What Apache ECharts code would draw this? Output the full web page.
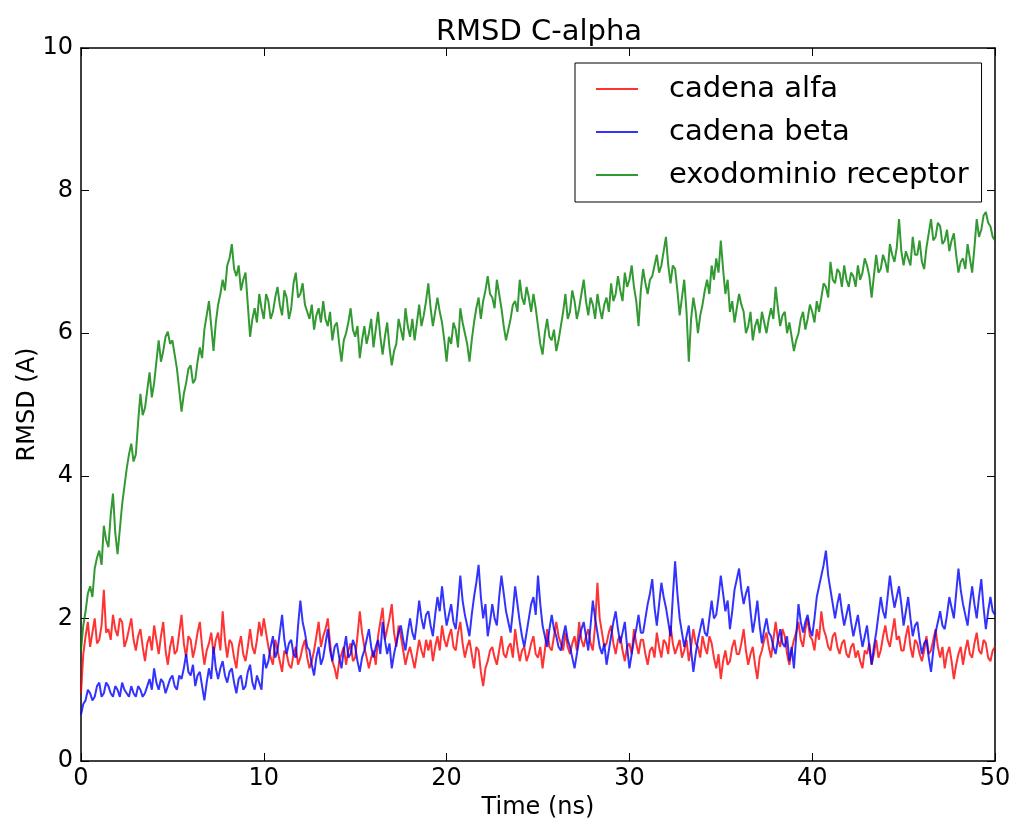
<!DOCTYPE html>
<html>
<head>
<meta charset="utf-8">
<title>RMSD C-alpha</title>
<script src="https://cdn.jsdelivr.net/npm/echarts@6/dist/echarts.min.js"></script>
<style>
  html, body { margin: 0; padding: 0; background: #fff; }
  #chart { width: 1012px; height: 821px; }
</style>
</head>
<body>
<div id="chart"></div>
<script>
// sampling step of the trajectory (ns)
const STEP_NS = 0.125;

const seriesNames = ['cadena alfa', 'cadena beta', 'exodominio receptor'];
const xTicks = [0, 10, 20, 30, 40, 50];
const yTicks = [0, 2, 4, 6, 8, 10];

// RMSD (A), one value every 0.125 ns, 0 -> 50 ns (one row = 5 ns)
const alfa = [
  0.95,1.5,1.75,1.95,1.6,1.8,2.0,1.65,1.7,1.9,2.4,1.8,1.85,1.7,2.05,1.85,1.75,2.0,1.95,1.6,1.7,1.85,2.0,1.7,1.55,1.75,1.85,1.6,1.4,1.65,1.75,1.55,1.9,1.7,1.5,1.75,1.95,1.55,1.35,1.6,
  1.75,1.5,1.55,1.8,2.05,1.65,1.45,1.75,1.7,1.45,1.6,1.8,1.95,1.6,1.35,1.55,1.65,1.8,1.5,1.7,1.8,1.55,2.1,1.7,1.45,1.7,1.65,1.45,1.3,1.6,1.75,1.5,1.4,1.6,1.85,1.6,1.5,1.7,1.95,1.75,
  2.0,1.8,1.6,1.45,1.35,1.7,1.55,1.4,1.25,1.55,1.5,1.35,1.3,1.5,1.6,1.35,1.45,1.6,1.7,1.45,1.3,1.4,1.55,1.75,1.95,1.6,1.75,1.85,2.0,1.65,1.4,1.3,1.15,1.4,1.5,1.6,1.35,1.55,1.65,1.4,
  1.45,1.75,2.1,1.8,1.6,1.45,1.3,1.45,1.55,1.35,1.75,1.95,2.15,1.7,1.85,2.0,2.2,1.8,1.6,1.9,1.75,1.55,1.35,1.5,1.6,1.45,1.3,1.5,1.7,1.55,1.45,1.7,1.55,1.7,1.4,1.6,1.75,1.55,1.9,1.7,
  1.6,1.75,1.85,1.6,1.55,1.8,1.95,1.65,1.45,1.6,1.7,1.5,1.3,1.6,1.55,1.25,1.05,1.3,1.4,1.55,1.6,1.45,1.35,1.55,1.75,1.5,1.45,1.6,1.65,1.45,1.85,1.6,1.4,1.55,1.6,1.4,1.5,1.65,1.75,1.5,
  1.45,1.6,1.3,1.55,1.85,1.6,1.55,1.75,1.95,1.75,1.65,1.55,1.8,1.6,1.5,1.65,1.75,1.55,1.95,1.7,1.6,1.75,1.85,1.65,1.55,1.9,2.5,2.0,1.8,1.6,1.65,1.8,1.9,1.65,1.5,1.7,1.75,1.55,1.4,1.6,
  1.65,1.5,1.85,1.65,1.5,1.7,1.7,1.5,1.35,1.55,1.6,1.45,1.8,1.6,1.45,1.7,1.65,1.5,1.9,1.65,1.5,1.6,1.7,1.45,1.55,1.7,1.4,1.6,1.85,1.65,1.6,1.45,1.75,1.6,1.5,1.75,1.65,1.45,1.3,1.5,
  1.15,1.4,1.55,1.35,1.4,1.6,1.7,1.5,1.5,1.65,1.85,1.55,1.35,1.5,1.6,1.35,1.15,1.45,1.55,1.7,1.8,1.6,1.45,1.7,1.95,1.7,1.6,1.85,1.75,1.5,1.35,1.55,1.7,1.8,1.95,1.7,1.6,1.85,2.0,1.75,
  1.7,1.55,1.85,1.7,2.1,1.85,1.75,1.6,1.55,1.75,1.8,1.6,1.5,1.65,1.7,1.5,1.45,1.6,1.65,1.45,1.55,1.4,1.3,1.55,1.5,1.65,1.35,1.5,1.7,1.45,1.55,1.75,1.9,1.7,1.6,1.8,2.0,1.7,1.75,1.55,
  1.55,1.75,1.9,1.6,1.45,1.7,1.65,1.5,1.4,1.55,1.75,1.5,1.55,1.7,1.85,1.6,1.45,1.6,1.3,1.5,1.6,1.4,1.15,1.35,1.5,1.6,1.35,1.55,1.7,1.5,1.45,1.65,1.8,1.55,1.5,1.7,1.65,1.45,1.4,1.55,
  1.6
];

const beta = [
  0.65,0.8,0.85,1.0,0.95,0.85,0.9,1.05,1.1,0.9,0.95,1.1,1.05,0.95,0.9,1.05,1.0,0.9,1.1,1.0,0.95,0.9,1.05,0.95,0.9,1.05,1.0,0.9,0.95,1.05,1.15,1.0,1.3,1.1,1.0,1.15,1.1,0.95,1.05,1.15,
  1.2,1.05,1.0,1.2,1.15,1.3,1.5,1.25,1.2,1.35,1.05,1.2,1.25,1.05,0.85,1.1,1.3,1.15,1.6,1.3,1.15,1.3,1.4,1.2,1.1,1.25,1.3,1.1,0.95,1.15,1.2,1.0,1.05,1.25,1.35,1.1,1.0,1.2,1.1,1.0,
  1.5,1.3,1.4,1.6,1.75,1.45,1.55,1.8,2.05,1.7,1.5,1.65,1.7,1.5,1.45,1.9,2.25,1.95,1.8,1.6,1.55,1.35,1.2,1.45,1.6,1.35,1.45,1.65,1.85,1.55,1.4,1.6,1.65,1.45,1.3,1.55,1.75,1.45,1.5,1.7,
  1.6,1.4,1.25,1.45,1.55,1.7,1.85,1.6,1.45,1.6,1.7,1.5,1.95,1.7,1.5,1.65,1.3,1.5,1.65,1.8,1.9,1.7,1.55,1.8,2.0,1.8,1.7,1.95,2.25,2.0,1.85,2.05,2.1,1.9,1.75,2.05,2.3,2.1,2.45,2.15,
  1.9,2.05,2.2,1.95,1.85,2.2,2.6,2.25,2.05,1.9,1.75,2.05,2.3,2.5,2.75,2.3,2.0,2.2,1.75,1.95,2.2,2.0,1.9,2.3,2.6,2.35,2.1,1.95,1.8,2.1,2.45,2.2,1.95,1.75,1.6,1.8,2.0,2.2,2.3,2.05,
  2.6,2.2,1.9,1.75,1.6,1.85,2.05,1.85,1.75,1.6,1.55,1.75,1.9,1.7,1.6,1.45,1.3,1.5,1.7,1.85,1.95,1.75,1.55,1.9,2.25,2.0,1.8,1.6,1.5,1.65,1.35,1.55,1.75,1.95,2.1,1.85,1.65,1.8,1.95,1.6,
  1.3,1.5,1.7,1.85,2.05,1.8,1.8,2.0,2.2,2.35,2.55,2.15,1.9,2.2,2.5,2.3,2.15,1.95,1.75,2.3,2.8,2.35,2.0,1.8,1.6,1.75,1.9,1.55,1.25,1.5,1.7,1.85,2.0,1.8,1.75,2.0,2.25,2.0,2.05,2.3,
  2.6,2.35,2.1,2.25,1.85,2.1,2.4,2.55,2.7,2.4,2.2,2.35,2.45,2.1,1.8,2.0,2.25,1.9,1.65,1.85,2.0,1.8,1.75,1.6,1.5,1.7,1.85,1.65,1.6,1.75,1.4,1.6,1.3,1.75,2.2,1.95,1.8,1.95,2.05,1.85,
  1.75,2.0,2.3,2.45,2.6,2.75,2.95,2.6,2.4,2.2,2.0,2.2,2.35,2.1,1.9,2.05,2.2,1.95,1.75,1.9,2.05,1.8,1.6,1.75,1.9,1.6,1.35,1.6,1.8,2.05,2.3,2.1,2.0,2.3,2.6,2.35,2.15,2.3,2.45,2.2,
  1.9,2.1,2.3,2.0,1.75,1.9,1.95,1.7,1.5,1.65,1.7,1.45,1.25,1.55,1.8,1.95,2.1,1.9,1.85,2.05,2.3,2.15,2.0,2.35,2.7,2.4,2.2,2.05,1.9,2.2,2.45,2.2,2.0,2.3,2.55,2.15,1.85,2.1,2.3,2.1,
  2.05
];

const exodominio = [
  1.55,1.9,2.1,2.35,2.45,2.3,2.7,2.85,2.95,2.75,3.3,3.1,3.0,3.45,3.75,3.2,2.9,3.25,3.6,3.85,4.1,4.3,4.45,4.2,4.3,4.75,5.15,4.85,4.95,5.2,5.45,5.1,5.3,5.6,5.9,5.6,5.75,5.95,6.02,5.85,
  5.9,5.7,5.5,5.2,4.9,5.15,5.3,5.5,5.55,5.3,5.35,5.6,5.8,5.65,6.05,6.25,6.45,6.1,5.75,6.15,6.4,6.55,6.75,6.6,6.95,7.05,7.25,6.9,6.8,6.95,6.6,6.75,6.85,6.4,5.95,6.2,6.35,6.15,6.55,6.35,
  6.2,6.55,6.45,6.2,6.3,6.5,6.65,6.4,6.25,6.6,6.5,6.2,6.35,6.7,6.85,6.5,6.55,6.7,6.4,6.3,6.2,6.4,6.05,6.25,6.35,6.15,6.45,6.2,6.1,6.3,5.9,6.1,6.15,5.85,5.6,5.9,6.0,6.15,6.35,6.05,
  5.95,6.1,5.65,5.9,6.1,5.85,6.0,6.2,5.8,6.05,6.3,5.95,5.7,5.95,6.15,5.8,5.55,5.75,5.85,6.2,6.05,5.9,6.35,6.1,5.95,6.2,5.9,6.15,6.4,6.1,6.25,6.45,6.7,6.35,6.1,6.3,6.5,6.3,6.15,5.9,
  5.6,5.95,5.85,6.15,6.05,5.8,6.35,6.15,6.0,5.85,5.6,5.9,6.15,6.35,6.5,6.2,6.45,6.6,6.8,6.55,6.5,6.35,6.75,6.55,6.35,6.1,5.9,6.05,6.2,6.4,6.45,6.3,6.75,6.5,6.4,6.65,6.5,6.3,6.55,6.35,
  6.1,5.85,5.7,6.0,6.2,5.95,5.9,6.05,5.75,5.9,6.1,6.3,6.55,6.2,6.3,6.6,6.45,6.2,6.35,6.55,6.75,6.45,6.25,6.5,6.4,6.2,6.55,6.35,6.2,6.4,6.5,6.3,6.7,6.45,6.55,6.8,6.6,6.45,6.85,6.65,
  6.75,6.95,6.65,6.45,6.1,6.6,6.9,6.7,6.55,6.75,6.8,6.95,7.1,6.85,6.95,7.15,7.35,6.95,6.7,6.95,6.9,6.6,6.25,6.5,6.75,6.3,5.6,6.2,6.5,6.3,6.0,6.25,6.4,6.6,6.75,6.55,6.95,6.75,7.05,6.85,
  7.3,6.9,6.55,6.75,6.3,6.45,6.15,6.35,6.55,6.4,6.3,6.0,6.1,6.3,5.9,6.1,6.2,6.0,6.3,6.15,6.0,6.2,6.35,6.2,6.65,6.35,6.1,6.25,6.3,6.0,6.15,5.95,5.75,5.9,6.0,6.2,6.3,6.05,6.2,6.4,
  6.3,6.15,6.45,6.3,6.5,6.7,6.65,6.5,7.0,6.75,6.7,6.9,6.85,6.65,6.95,6.75,6.65,6.85,6.8,6.65,6.95,6.75,6.85,7.05,6.95,6.8,6.5,6.8,7.1,6.85,6.9,7.1,7.0,6.85,7.25,7.1,7.0,7.2,7.6,7.15,
  6.95,7.15,7.05,6.95,7.35,7.1,7.1,7.3,7.0,6.9,7.2,7.4,7.6,7.3,7.35,7.55,7.5,7.25,7.3,7.45,7.15,7.3,7.4,7.1,6.85,7.0,7.05,6.9,7.25,7.05,6.85,7.2,7.6,7.35,7.45,7.65,7.7,7.55,7.5,7.35,
  7.3
];

const colors = ['rgba(255,0,0,0.8)', 'rgba(0,0,255,0.8)', 'rgba(0,128,0,0.8)'];
const FONT = 'DejaVu Sans';

function toPoints(values) {
  return values.map((v, i) => [i * STEP_NS, v]);
}

const chart = echarts.init(document.getElementById('chart'), null, { renderer: 'canvas' });

// common axis pieces (matplotlib classic look: black frame, inward ticks)
const frameLine = { show: true, onZero: false, lineStyle: { color: '#000', width: 1.5 } };
const inTick = { show: true, inside: true, length: 8, lineStyle: { color: '#000', width: 1 } };

const option = {
  animation: false,
  backgroundColor: '#fff',
  textStyle: { fontFamily: FONT, color: '#000' },
  color: colors,
  title: {
    text: 'RMSD C-alpha',
    left: 534,
    top: 13,
    textAlign: 'center',
    textStyle: { fontFamily: FONT, fontSize: 29, fontWeight: 'normal', color: '#000' }
  },
  legend: {
    orient: 'vertical',
    left: 575,
    top: 63,
    data: seriesNames,
    icon: 'rect',
    itemWidth: 42,
    itemHeight: 2,
    itemGap: 13,
    padding: [11, 13, 12, 21],
    borderColor: '#000',
    borderWidth: 1,
    borderRadius: 0,
    backgroundColor: '#fff',
    textStyle: {
      fontFamily: FONT, fontSize: 29, color: '#000',
      lineHeight: 30, padding: [0, 0, 0, 26]
    }
  },
  grid: { left: 81, right: 17, top: 48, bottom: 60, containLabel: false, outerBoundsMode: 'none' },
  xAxis: [
    {
      type: 'value', position: 'bottom', min: 0, max: 50, interval: 10,
      name: 'Time (ns)', nameLocation: 'middle', nameGap: 33,
      nameTextStyle: { fontFamily: FONT, fontSize: 24, color: '#000' },
      axisLine: frameLine, axisTick: inTick,
      axisLabel: { fontFamily: FONT, fontSize: 24, color: '#000', margin: 6,
        formatter: v => xTicks.includes(v) ? String(v) : '' },
      splitLine: { show: false }
    },
    {
      type: 'value', position: 'top', min: 0, max: 50, interval: 10,
      axisLine: frameLine, axisTick: inTick,
      axisLabel: { show: false }, splitLine: { show: false }
    }
  ],
  yAxis: [
    {
      type: 'value', position: 'left', min: 0, max: 10, interval: 2,
      name: 'RMSD (A)', nameLocation: 'middle', nameGap: 41, nameRotate: 90,
      nameMoveOverlap: false,
      nameTextStyle: { fontFamily: FONT, fontSize: 24, color: '#000' },
      axisLine: frameLine, axisTick: inTick,
      axisLabel: { fontFamily: FONT, fontSize: 24, color: '#000', margin: 8,
        formatter: v => yTicks.includes(v) ? String(v) : '' },
      splitLine: { show: false }
    },
    {
      type: 'value', position: 'right', min: 0, max: 10, interval: 2,
      axisLine: frameLine, axisTick: inTick,
      axisLabel: { show: false }, splitLine: { show: false }
    }
  ],
  series: [
    { name: seriesNames[0], type: 'line', data: toPoints(alfa), showSymbol: false,
      xAxisIndex: 0, yAxisIndex: 0, lineStyle: { width: 2, color: colors[0] } },
    { name: seriesNames[1], type: 'line', data: toPoints(beta), showSymbol: false,
      xAxisIndex: 0, yAxisIndex: 0, lineStyle: { width: 2, color: colors[1] } },
    { name: seriesNames[2], type: 'line', data: toPoints(exodominio), showSymbol: false,
      xAxisIndex: 0, yAxisIndex: 0, lineStyle: { width: 2, color: colors[2] } }
  ]
};

chart.setOption(option);
</script>
</body>
</html>
